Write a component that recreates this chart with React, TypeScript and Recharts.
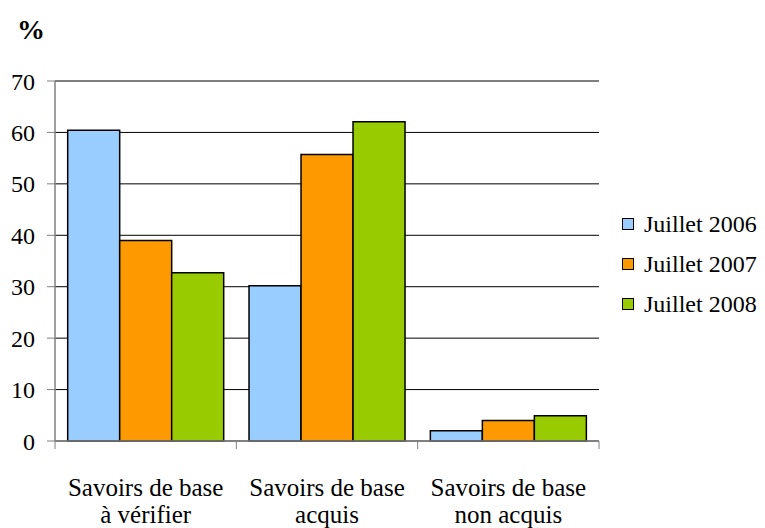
import React from "react";
import { BarChart, Bar, XAxis, YAxis, CartesianGrid, ReferenceLine } from "recharts";

const categoryLine1 = ["Savoirs de base", "Savoirs de base", "Savoirs de base"];
const categoryLine2 = ["à vérifier", "acquis", "non acquis"];
const juillet2006 = [60.4, 30.2, 2.0];
const juillet2007 = [39.0, 55.7, 4.0];
const juillet2008 = [32.7, 62.1, 4.9];
const yTicks = [0, 10, 20, 30, 40, 50, 60, 70];
const seriesNames = ["Juillet 2006", "Juillet 2007", "Juillet 2008"];
const seriesColors = ["#99CCFF", "#FF9900", "#99CC00"];

const data = categoryLine1.map((l1, i) => ({
  name: l1 + " " + categoryLine2[i],
  line1: l1,
  line2: categoryLine2[i],
  s2006: juillet2006[i],
  s2007: juillet2007[i],
  s2008: juillet2008[i],
}));

const FONT = "'Times New Roman', Times, 'Liberation Serif', 'DejaVu Serif', serif";

const XTick = (props: any) => {
  const { x, y, payload, index } = props;
  const half = payload && payload.offset ? payload.offset : 90.67;
  const d = data[index] || data[0];
  return (
    <g>
      <line x1={x - half} y1={y} x2={x - half} y2={y + 8} stroke="#808080" strokeWidth={1} />
      {index === data.length - 1 && (
        <line x1={x + half} y1={y} x2={x + half} y2={y + 8} stroke="#808080" strokeWidth={1} />
      )}
      <text x={x} y={y + 55} textAnchor="middle" style={{ fontFamily: FONT }} fontSize={25} fill="#000">
        {d.line1}
      </text>
      <text x={x} y={y + 82} textAnchor="middle" style={{ fontFamily: FONT }} fontSize={25} fill="#000">
        {d.line2}
      </text>
    </g>
  );
};

export default function App() {
  const keys = ["s2006", "s2007", "s2008"];
  return (
    <div style={{ position: "absolute", left: 0, top: 0, width: 765, height: 528, background: "#fff" }}>
      <div
        style={{
          position: "absolute",
          left: 17,
          top: 13,
          fontFamily: FONT,
          fontWeight: "bold",
          fontSize: 28,
          lineHeight: "34px",
          color: "#000",
        }}
      >
        %
      </div>
      <BarChart
        width={765}
        height={528}
        data={data}
        margin={{ top: 81, right: 166, bottom: 0, left: 0 }}
        barCategoryGap="7%"
        barGap={0}
      >
        <CartesianGrid horizontal={true} vertical={false} stroke="#000" strokeWidth={1} />
        <XAxis
          dataKey="name"
          height={87}
          axisLine={{ stroke: "#808080", strokeWidth: 1.5 }}
          tickLine={false}
          tickSize={0}
          tickMargin={0}
          interval={0}
          tick={<XTick />}
        />
        <YAxis
          width={55}
          domain={[0, 70]}
          ticks={yTicks}
          interval={0}
          tickSize={8}
          tickMargin={12}
          axisLine={{ stroke: "#808080", strokeWidth: 1.5 }}
          tickLine={{ stroke: "#808080", strokeWidth: 1 }}
          tick={{ fill: "#000", fontSize: 24, style: { fontFamily: FONT } }}
        />
        <YAxis
          yAxisId="right"
          orientation="right"
          width={0}
          domain={[0, 70]}
          tick={false}
          tickLine={false}
          axisLine={{ stroke: "#808080", strokeWidth: 1 }}
        />
        <ReferenceLine y={70} stroke="#808080" strokeWidth={1} />
        {keys.map((k, i) => (
          <Bar
            key={k}
            dataKey={k}
            name={seriesNames[i]}
            fill={seriesColors[i]}
            stroke="#000"
            strokeWidth={1.5}
            isAnimationActive={false}
          />
        ))}
      </BarChart>
      <div style={{ position: "absolute", left: 622, top: 204 }}>
        {seriesNames.map((n, i) => (
          <div
            key={n}
            style={{ display: "flex", alignItems: "center", height: 40, fontFamily: FONT, fontSize: 24, color: "#000" }}
          >
            <span
              style={{
                display: "inline-block",
                width: 10,
                height: 10,
                background: seriesColors[i],
                border: "1.5px solid #000",
                marginRight: 10,
              }}
            />
            <span>{n}</span>
          </div>
        ))}
      </div>
    </div>
  );
}
